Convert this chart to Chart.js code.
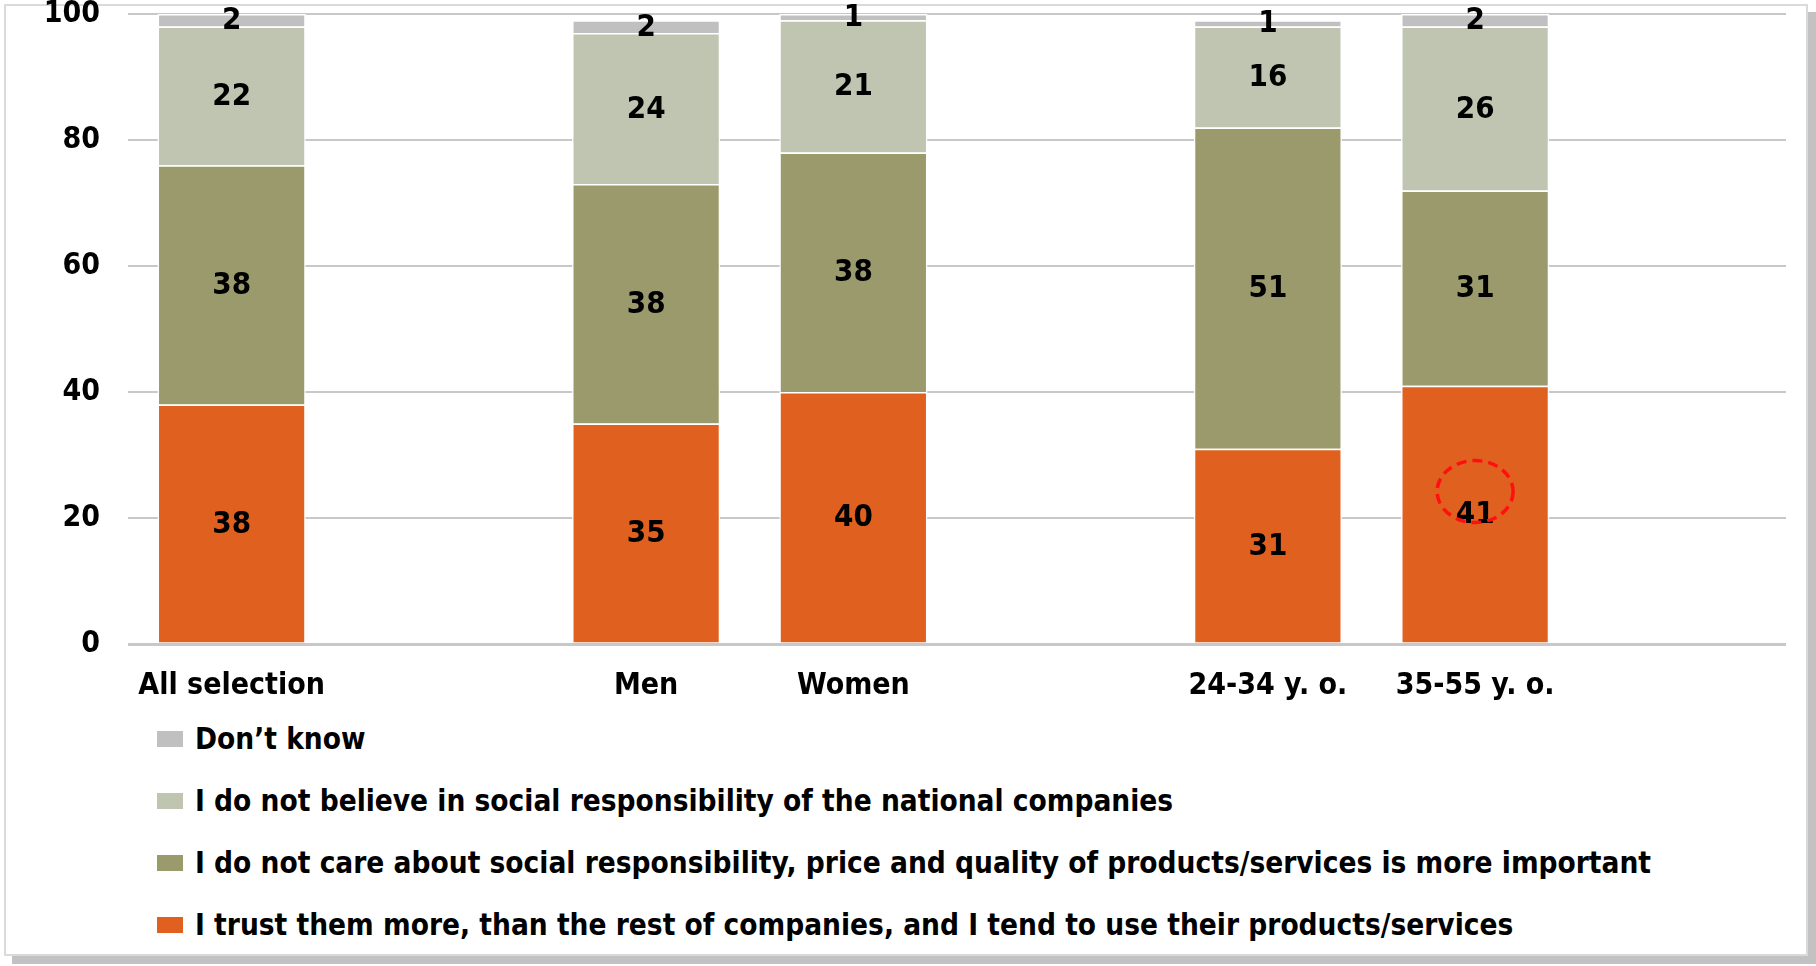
<!DOCTYPE html>
<html>
<head>
<meta charset="utf-8">
<script src="https://cdn.jsdelivr.net/npm/chart.js@4/dist/chart.umd.min.js"></script>
<style>
    html, body { margin: 0; padding: 0; background: #fff; }
    body {
        width: 1816px; height: 966px; position: relative; overflow: hidden;
        font-family: 'DejaVu Sans Condensed', 'DejaVu Sans', sans-serif;
    }
    .frame {
        position: absolute; left: 4px; top: 4px; width: 1800px; height: 948px;
        border: 2px solid #dadada; box-shadow: 8px 8px 0 #c2c2c2; background: #fff;
    }
    .plot { position: absolute; left: 0; top: 0; width: 1816px; height: 700px; }
    #legend { position: absolute; left: 157px; top: 708px; margin: 0; padding: 0; list-style: none; }
    #legend li {
        display: flex; align-items: center; height: 62px;
        font-weight: bold; font-size: 29.5px; color: #000; white-space: nowrap;
    }
    #legend .box { width: 26px; height: 16px; margin-right: 12px; flex: none; }
</style>
</head>
<body>
<div class="frame"></div>
<div class="plot"><canvas id="trustChart"></canvas></div>
<ul id="legend"></ul>

<script>
/* ── Data ─────────────────────────────────────────── */
const groups = ['All selection', '', 'Men', 'Women', '', '24-34 y. o.', '35-55 y. o.', ''];

const trustMore    = [38, null, 35, 40, null, 31, 41, null];
const dontCare     = [38, null, 38, 38, null, 51, 31, null];
const dontBelieve  = [22, null, 24, 21, null, 16, 26, null];
const dontKnow     = [2,  null, 2,  1,  null, 1,  2,  null];

const seriesNames = [
    'I trust them more, than the rest of companies, and I tend to use their products/services',
    'I do not care about social responsibility, price and quality of products/services is more important',
    'I do not believe in social responsibility of the national companies',
    'Don\u2019t know',
];

const yTicks = [0, 20, 40, 60, 80, 100];

// dashed ring drawn around one of the values
const callout = { group: '35-55 y. o.', value: 24.2, rx: 38, ry: 31 };

/* ── Styling ──────────────────────────────────────── */
const FONT = "'DejaVu Sans Condensed', 'DejaVu Sans', sans-serif";
const colors = ['#e0601f', '#9b9a6d', '#bfc5b1', '#c0c0c0'];

Chart.defaults.font.family = FONT;
Chart.defaults.font.weight = 'bold';
Chart.defaults.color = '#000';

/* ── Plugins ──────────────────────────────────────── */
const segmentLabels = {
    id: 'segmentLabels',
    afterDatasetsDraw(chart) {
        const ctx = chart.ctx;
        ctx.save();
        ctx.font = `bold 31px ${FONT}`;
        ctx.fillStyle = '#000';
        ctx.textAlign = 'center';
        ctx.textBaseline = 'middle';
        chart.data.datasets.forEach((ds, i) => {
            const meta = chart.getDatasetMeta(i);
            meta.data.forEach((bar, j) => {
                const v = ds.data[j];
                if (v == null) return;
                ctx.fillText(String(v), bar.x, (bar.y + bar.base) / 2 + 1);
            });
        });
        ctx.restore();
    },
};

const calloutRing = {
    id: 'calloutRing',
    afterDraw(chart) {
        const { ctx, scales } = chart;
        const x = scales.x.getPixelForValue(groups.indexOf(callout.group));
        const y = scales.y.getPixelForValue(callout.value);
        ctx.save();
        ctx.strokeStyle = '#ff1010';
        ctx.lineWidth = 3.5;
        ctx.setLineDash([10, 6]);
        ctx.beginPath();
        ctx.ellipse(x, y, callout.rx, callout.ry, 0, 0, Math.PI * 2);
        ctx.stroke();
        ctx.restore();
    },
};

/* ── Chart ────────────────────────────────────────── */
const seriesValues = [trustMore, dontCare, dontBelieve, dontKnow];

const chart = new Chart(document.getElementById('trustChart'), {
    type: 'bar',
    data: {
        labels: groups,
        datasets: seriesValues.map((data, i) => ({
            label: seriesNames[i],
            data,
            backgroundColor: colors[i],
            borderColor: '#ffffff',
            borderWidth: 1.5,
            categoryPercentage: 1,
            barPercentage: 0.715,
        })),
    },
    options: {
        responsive: true,
        maintainAspectRatio: false,
        animation: false,
        layout: {
            padding: { top: 14, right: 30, bottom: 0, left: 0 },
        },
        plugins: {
            legend: { display: false },
            tooltip: { enabled: false },
        },
        scales: {
            x: {
                stacked: true,
                grid: { display: false },
                border: { display: false },
                ticks: {
                    font: { size: 30, weight: 'bold' },
                    padding: 16,
                    maxRotation: 0,
                    autoSkip: false,
                },
                afterFit: (scale) => {
                    scale.height = 56;
                    scale.paddingLeft = 0;
                    scale.paddingRight = 0;
                },
            },
            y: {
                stacked: true,
                min: 0,
                max: 100,
                afterBuildTicks: (scale) => { scale.ticks = yTicks.map((value) => ({ value })); },
                grid: {
                    color: '#c8c8c8',
                    lineWidth: (c) => (c.tick && c.tick.value === 0 ? 3 : 2),
                    drawTicks: false,
                },
                border: { display: false },
                ticks: {
                    font: { size: 30, weight: 'bold' },
                    padding: 28,
                },
                afterFit: (scale) => {
                    scale.width = 128;
                    scale.paddingTop = 0;
                    scale.paddingBottom = 0;
                },
            },
        },
    },
    plugins: [segmentLabels, calloutRing],
});

/* ── Legend (top entry = last series) ─────────────── */
const legend = document.getElementById('legend');
chart.data.datasets.slice().reverse().forEach((ds) => {
    const li = document.createElement('li');
    const box = document.createElement('span');
    box.className = 'box';
    box.style.background = ds.backgroundColor;
    li.appendChild(box);
    li.appendChild(document.createTextNode(ds.label));
    legend.appendChild(li);
});
</script>
</body>
</html>
